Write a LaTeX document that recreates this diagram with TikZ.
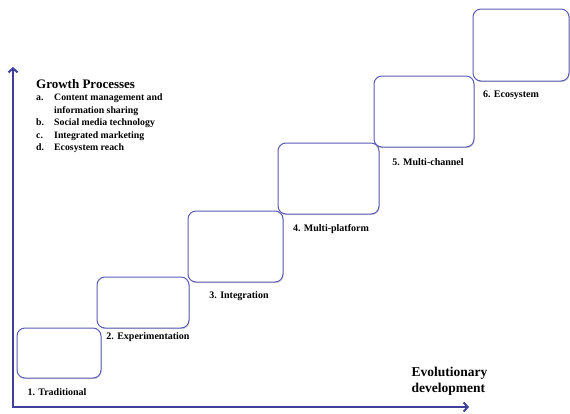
\documentclass[tikz,border=0pt]{standalone}
\usepackage{fontspec}
\setmainfont{Liberation Serif}
\usetikzlibrary{arrows.meta,shadows}
\definecolor{axisblue}{HTML}{3F3F9E}
\definecolor{boxblue}{HTML}{5C5CB4}
\begin{document}
\begin{tikzpicture}[x=1pt,y=-1pt,
  stagebox/.style={draw=boxblue,line width=1pt,rounded corners=8pt,fill=white,inner sep=0pt,
    drop shadow={opacity=0.35,shadow xshift=0.6pt,shadow yshift=-1.2pt}},
  lbl/.style={font=\fontsize{10}{12}\selectfont\bfseries,inner sep=0pt,anchor=center},
  axis/.style={draw=axisblue,line width=2.4pt,-{Straight Barb[length=4pt,width=9pt,line width=2pt]}}]
\useasboundingbox (0,0) rectangle (570,413);
% axes
\coordinate (O) at (13,407);
\coordinate (Ytop) at (13,67);
\coordinate (Xend) at (469,407);
\draw[axis] (O) -- (Ytop);
\draw[axis] ([xshift=-1.2pt]O) -- (Xend);
% boxes
\node[stagebox,minimum width=84pt,minimum height=50pt] (b1) at (59,353) {};
\node[stagebox,minimum width=92pt,minimum height=51pt] (b2) at (143,302.5) {};
\node[stagebox,minimum width=95pt,minimum height=71pt] (b3) at (235.5,246.5) {};
\node[stagebox,minimum width=101pt,minimum height=71pt] (b4) at (328.5,178.5) {};
\node[stagebox,minimum width=100pt,minimum height=71pt] (b5) at (424,111.5) {};
\node[stagebox,minimum width=96pt,minimum height=72pt] (b6) at (521,45) {};
% labels
\node[lbl] (l1) at (57,392) {1. Traditional};
\node[lbl] (l2) at (148,337) {2. Experimentation};
\node[lbl] (l3) at (239,296) {3. Integration};
\node[lbl] (l4) at (331,229) {4. Multi-platform};
\node[lbl] (l5) at (428,162) {5. Multi-channel};
\node[lbl] (l6) at (511,95) {6. Ecosystem};
\node[font=\fontsize{13.5}{16}\selectfont\bfseries,align=left,inner sep=0pt] (evo) at (449.5,381) {Evolutionary\\development};
% growth processes
\node[font=\fontsize{13}{15}\selectfont\bfseries,anchor=west,inner sep=0pt] (gp) at (36,84) {Growth Processes};
\node[font=\fontsize{9.8}{12.6}\selectfont\bfseries,anchor=north west,inner sep=0pt,align=left] (list) at (36,91.5) {%
\begin{tabular}{@{}p{18pt}@{}l@{}}
a. & Content management and\\
   & information sharing\\
b. & Social media technology\\
c. & Integrated marketing\\
d. & Ecosystem reach
\end{tabular}};
\end{tikzpicture}
\end{document}
